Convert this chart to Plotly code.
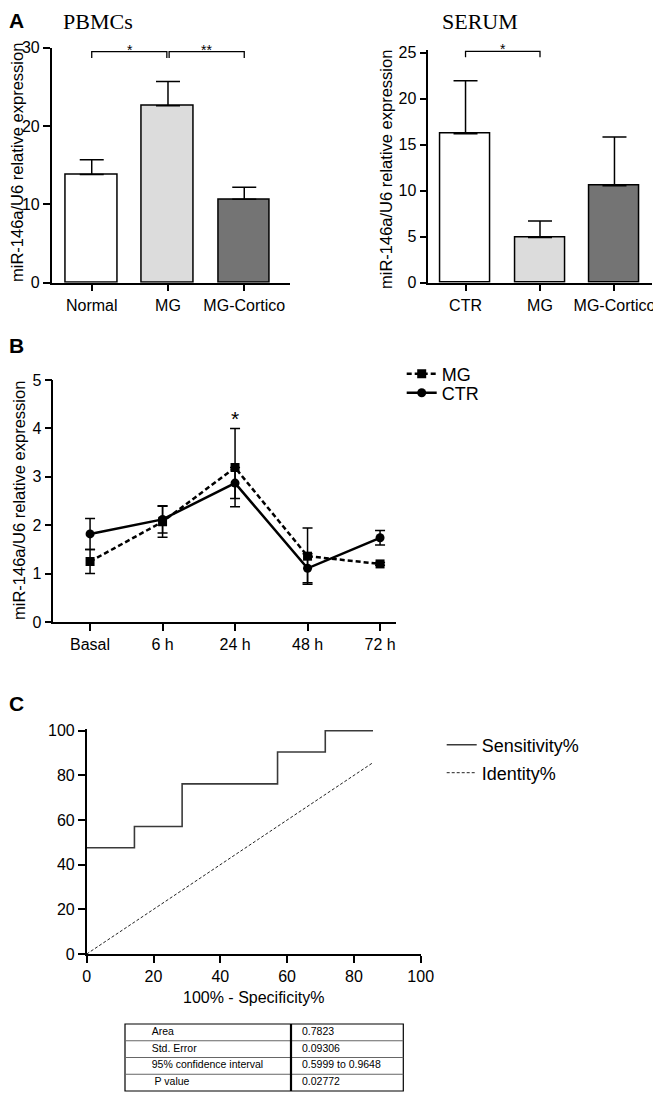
import plotly.graph_objects as go

# ---------------- data ----------------
# Panel A - PBMCs
pbmc_groups = ["Normal", "MG", "MG-Cortico"]
pbmc_mean = [13.8, 22.6, 10.65]
pbmc_sem = [1.9, 3.1, 1.55]
pbmc_yticks = [0, 10, 20, 30]
pbmc_sig = [(0, 1, "*"), (1, 2, "**")]

# Panel A - Serum
serum_groups = ["CTR", "MG", "MG-Cortico"]
serum_mean = [16.2, 4.9, 10.55]
serum_sem = [5.75, 1.8, 5.3]
serum_yticks = [0, 5, 10, 15, 20, 25]
serum_sig = [(0, 1, "*")]

bar_colors = ["#ffffff", "#dcdcdc", "#747474"]

# Panel B - time course
time_labels = ["Basal", "6 h", "24 h", "48 h", "72 h"]
mg_mean = [1.25, 2.07, 3.19, 1.36, 1.20]
mg_sem = [0.25, 0.32, 0.81, 0.58, 0.03]
ctr_mean = [1.82, 2.12, 2.87, 1.11, 1.74]
ctr_sem = [0.32, 0.28, 0.32, 0.30, 0.15]
b_yticks = [0, 1, 2, 3, 4, 5]
b_sig = [(2, 4.0, "*")]

# Panel C - ROC
roc_fpr = [0, 14.29, 28.57, 57.14, 71.43, 85.71]
roc_sens = [47.62, 57.14, 76.19, 90.48, 100, 100]
identity_x = [0, 85.71]
identity_y = [0, 85.71]
c_ticks = [0, 20, 40, 60, 80, 100]

table_labels = ["Area", "Std. Error", "95% confidence interval", " P value"]
table_values = ["0.7823", "0.09306", "0.5999 to 0.9648", "0.02772"]

y_title = "miR-146a/U6 relative expression"

# ---------------- figure ----------------
W, H = 661, 1094
OFF = 8   # the page places the figure 8px in from the top-left corner
SANS = "Liberation Sans, Arial, Helvetica, sans-serif"
SERIF = "Liberation Serif, Times New Roman, serif"


def px_x(p):
    return (p - OFF) / W


def px_y(p):
    return 1 - (p - OFF) / H


fig = go.Figure()

pbmc_idx = list(range(len(pbmc_groups)))
serum_idx = list(range(len(serum_groups)))
time_idx = list(range(len(time_labels)))

fig.add_trace(go.Bar(
    x=pbmc_idx, y=pbmc_mean, width=0.68,
    marker=dict(color=bar_colors, line=dict(color="black", width=1.5)),
    error_y=dict(type="data", array=pbmc_sem, arrayminus=[0] * len(pbmc_sem),
                 symmetric=False, color="black", thickness=1.5, width=12),
    xaxis="x", yaxis="y", showlegend=False, hoverinfo="skip"))

fig.add_trace(go.Bar(
    x=serum_idx, y=serum_mean, width=0.666,
    marker=dict(color=bar_colors, line=dict(color="black", width=1.5)),
    error_y=dict(type="data", array=serum_sem, arrayminus=[0] * len(serum_sem),
                 symmetric=False, color="black", thickness=1.5, width=12),
    xaxis="x2", yaxis="y2", showlegend=False, hoverinfo="skip"))

annotations = []


def add_brackets(sig, level, drop, xa, ya, fs, gap=0.015):
    for i, (a, b, txt) in enumerate(sig):
        a2 = a + (gap if i > 0 else 0)
        b2 = b - (gap if len(sig) > 1 and i == 0 else 0)
        fig.add_trace(go.Scatter(
            x=[a2, a2, b2, b2], y=[level - drop, level, level, level - drop],
            mode="lines", line=dict(color="black", width=1.3),
            xaxis=xa, yaxis=ya, showlegend=False, hoverinfo="skip"))
        annotations.append(dict(
            x=(a + b) / 2, y=level, xref=xa, yref=ya, text=txt, showarrow=False,
            yanchor="bottom", yshift=-8, font=dict(size=fs, family=SANS, color="black")))


add_brackets(pbmc_sig, 29.5, 0.8, "x", "y", 14)
add_brackets(serum_sig, 25.15, 0.65, "x2", "y2", 14)

# Panel B
fig.add_trace(go.Scatter(
    x=time_idx, y=ctr_mean, mode="lines+markers", name="CTR",
    line=dict(color="black", width=2.5),
    marker=dict(symbol="circle", size=9, color="black"),
    error_y=dict(type="data", array=ctr_sem, color="black", thickness=1.5, width=5),
    xaxis="x3", yaxis="y3", legend="legend3", hoverinfo="skip"))
fig.add_trace(go.Scatter(
    x=time_idx, y=mg_mean, mode="lines+markers", name="MG",
    line=dict(color="black", width=2.5, dash="5px,3px"),
    marker=dict(symbol="square", size=9, color="black"),
    error_y=dict(type="data", array=mg_sem, color="black", thickness=1.5, width=5),
    xaxis="x3", yaxis="y3", legend="legend2", hoverinfo="skip"))
for (xi, yv, txt) in b_sig:
    annotations.append(dict(x=xi, y=yv, xref="x3", yref="y3", text=txt, showarrow=False,
                            yanchor="bottom", yshift=-4,
                            font=dict(size=21, family=SANS, color="black")))

# Panel C
fig.add_trace(go.Scatter(
    x=roc_fpr, y=roc_sens, mode="lines", line_shape="hv", name="Sensitivity%",
    line=dict(color="#3a3a3a", width=1.6),
    xaxis="x4", yaxis="y4", legend="legend4", hoverinfo="skip"))
fig.add_trace(go.Scatter(
    x=identity_x, y=identity_y, mode="lines", name="Identity%",
    line=dict(color="#222222", width=1, dash="3px,2px"),
    xaxis="x4", yaxis="y4", legend="legend5", hoverinfo="skip"))

# Table (text cells drawn by go.Table, grid drawn as shapes)
gx0, gx1, gmid = 125, 403.3, 291          # grid box (reference px)
gy0, gy1 = 1024, 1091
n_rows = len(table_labels)
row_h = (gy1 - gy0) / n_rows
cell_font = dict(size=10.5, family=SANS, color="black")
text_x0 = 151.7 - 8      # plotly pads cell text by ~8px
text_x1 = 302.3 - 8
fig.add_trace(go.Table(
    domain=dict(x=[px_x(text_x0), px_x(gx1)], y=[px_y(gy1), px_y(gy0 - 5)]),
    columnwidth=[text_x1 - text_x0, gx1 - text_x1],
    header=dict(values=[table_labels[0], table_values[0]], align="left", height=row_h,
                line=dict(color="rgba(0,0,0,0)", width=0), fill=dict(color="rgba(0,0,0,0)"),
                font=cell_font),
    cells=dict(values=[table_labels[1:], table_values[1:]], align="left", height=row_h,
               line=dict(color="rgba(0,0,0,0)", width=0), fill=dict(color="rgba(0,0,0,0)"),
               font=cell_font)))

shapes = [dict(type="rect", xref="paper", yref="paper", x0=px_x(gx0), x1=px_x(gx1),
               y0=px_y(gy1), y1=px_y(gy0), line=dict(color="black", width=1.2))]
for r in range(1, n_rows):
    yy = px_y(gy0 + r * row_h)
    shapes.append(dict(type="line", xref="paper", yref="paper", x0=px_x(gx0), x1=px_x(gx1),
                       y0=yy, y1=yy, line=dict(color="#666666", width=1)))
shapes.append(dict(type="line", xref="paper", yref="paper", x0=px_x(gmid), x1=px_x(gmid),
                   y0=px_y(gy1), y1=px_y(gy0), line=dict(color="black", width=2.2)))


# Text labels
def label(x, y, text, size, family=SANS, bold=False, xanchor="center", yanchor="middle",
          angle=0):
    annotations.append(dict(x=px_x(x), y=px_y(y), xref="paper", yref="paper",
                            text=("<b>%s</b>" % text) if bold else text, showarrow=False,
                            xanchor=xanchor, yanchor=yanchor, textangle=angle, borderpad=0,
                            font=dict(size=size, family=family, color="black")))


# top-row labels sit as high as the page allows
label(OFF, OFF, "A", 21, bold=True, xanchor="left", yanchor="top")
label(98, OFF, "PBMCs", 22, family=SERIF, yanchor="top")
label(480, OFF, "SERUM", 22, family=SERIF, yanchor="top")
label(OFF, 346, "B", 21, bold=True, xanchor="left")
label(OFF, 703, "C", 21, bold=True, xanchor="left")
label(OFF + 9, 163, y_title, 16.5, angle=-90)
label(386, 170, y_title, 16.5, angle=-90)
label(19, 501, y_title, 16.5, angle=-90)

tickfont = dict(size=16, family=SANS, color="black")


def axis_common():
    return dict(showline=True, linecolor="black", linewidth=1.5, ticks="outside",
                ticklen=7, tickwidth=1.5, tickcolor="black", showgrid=False,
                zeroline=False, tickfont=tickfont, fixedrange=True, automargin=False)


def legend_at(x, y):
    return dict(x=px_x(x), y=px_y(y), xanchor="left", yanchor="middle",
                bgcolor="rgba(0,0,0,0)", borderwidth=0,
                font=dict(size=18, family=SANS, color="black"), itemwidth=30)


fig.update_layout(
    width=W, height=H, margin=dict(l=0, r=0, t=0, b=0, pad=0, autoexpand=False),
    paper_bgcolor="white", plot_bgcolor="white",
    font=dict(family=SANS, color="black"),
    bargap=0,
    xaxis=dict(domain=[px_x(51.7), px_x(290)], range=[-0.525, 2.60], anchor="y",
               tickvals=pbmc_idx, ticktext=pbmc_groups, **axis_common()),
    yaxis=dict(domain=[px_y(282.7), px_y(47.7)], range=[0, 30], anchor="x",
               tickvals=pbmc_yticks, **axis_common()),
    xaxis2=dict(domain=[px_x(428.3), px_x(651.7)], range=[-0.5, 2.5], anchor="y2",
                tickvals=serum_idx, ticktext=serum_groups, **axis_common()),
    yaxis2=dict(domain=[px_y(282.7), px_y(49.5)], range=[0, 25.35], anchor="x2",
                tickvals=serum_yticks, **axis_common()),
    xaxis3=dict(domain=[px_x(53.3), px_x(396)], range=[-0.507, 4.22], anchor="y3",
                tickvals=time_idx, ticktext=time_labels, **axis_common()),
    yaxis3=dict(domain=[px_y(622), px_y(380)], range=[0, 5], anchor="x3",
                tickvals=b_yticks, **axis_common()),
    xaxis4=dict(domain=[px_x(86.7), px_x(420.7)], range=[0, 100], anchor="y4",
                tickvals=c_ticks,
                title=dict(text="100% - Specificity%", font=dict(size=16, family=SANS, color="black"),
                           standoff=8),
                **axis_common()),
    yaxis4=dict(domain=[px_y(954), px_y(728.5)], range=[0, 101], anchor="x4",
                tickvals=c_ticks, **axis_common()),
    legend2=legend_at(401.7, 374),
    legend3=legend_at(401.7, 393),
    legend4=legend_at(441.7, 745),
    legend5=legend_at(441.7, 773),
    annotations=annotations,
    shapes=shapes,
)

fig.write_html("out.html")
